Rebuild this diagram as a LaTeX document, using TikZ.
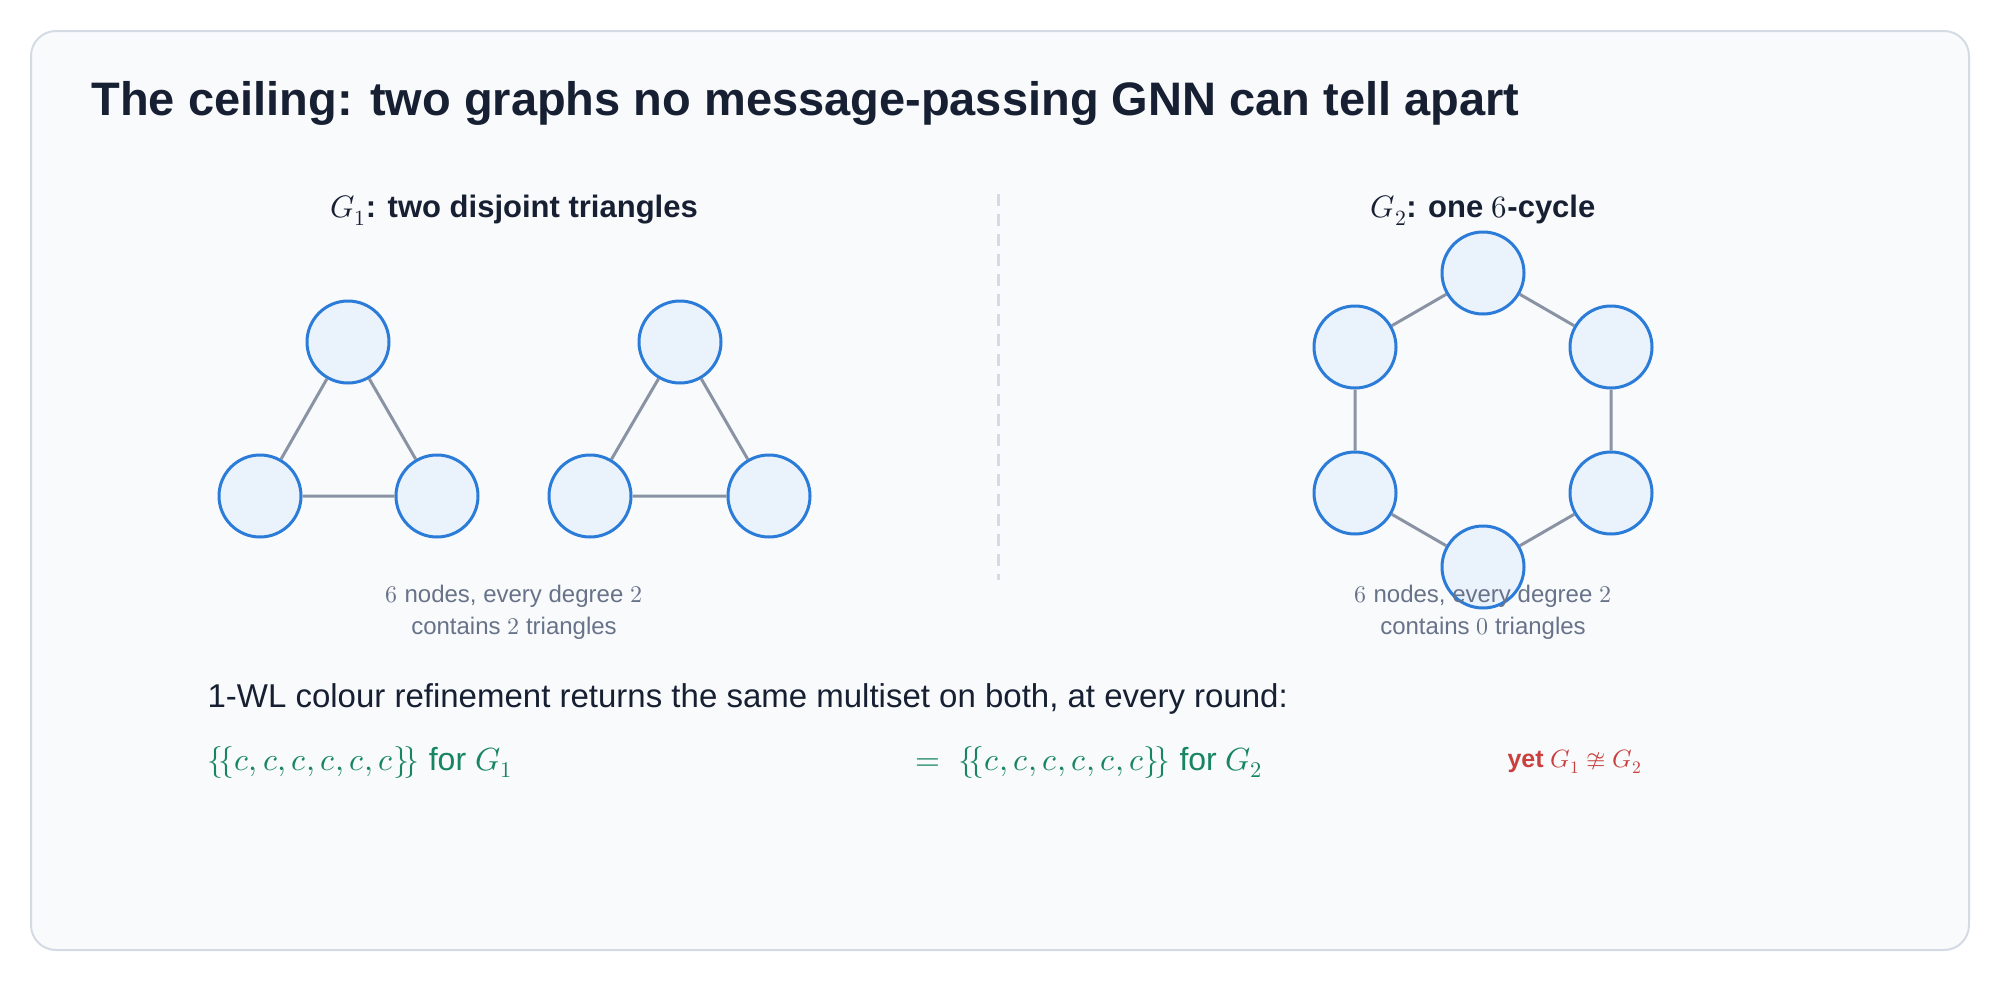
\documentclass[tikz,border=0pt]{standalone}
\usepackage{fontspec}
\usepackage{unicode-math}
\setmainfont{Liberation Sans}
\setmathfont{Latin Modern Math}
\begin{document}
\definecolor{bgc}{HTML}{F8FAFC}
\definecolor{frm}{HTML}{D5DBE5}
\definecolor{ttl}{HTML}{172033}
\definecolor{nfill}{HTML}{EAF2FC}
\definecolor{ndraw}{HTML}{2B7BD8}
\definecolor{edg}{HTML}{8A93A3}
\definecolor{cap}{HTML}{687389}
\definecolor{grn}{HTML}{17855F}
\definecolor{red}{HTML}{C9403F}
\begin{tikzpicture}[x=1pt,y=-1pt,
  v/.style={circle,draw=ndraw,fill=nfill,line width=3pt,minimum size=82pt,inner sep=0pt},
  e/.style={draw=edg,line width=3pt},
  sub/.style={font=\fontsize{31}{35}\selectfont\bfseries,text=ttl},
  cp/.style={font=\fontsize{24}{32}\selectfont,text=cap,align=center}]
\useasboundingbox (0,0) rectangle (1999,983);
\fill[white] (0,0) rectangle (1999,983);
\draw[frm,fill=bgc,line width=2pt,rounded corners=25pt] (31,31) rectangle (1969,950);
\node[anchor=west,font=\fontsize{47}{52}\selectfont\bfseries,text=ttl] (title) at (88,103) {The ceiling: two graphs no message-passing GNN can tell apart};
\node[sub] (s1) at (514,210) {$G_1$: two disjoint triangles};
\node[sub] (s2) at (1483,210) {$G_2$: one $6$-cycle};
\coordinate (d1) at (998,194); \coordinate (d2) at (998,580);
\draw[frm,line width=3pt,dash pattern=on 12pt off 8pt] (d1) -- (d2);
% triangles
\node[v] (a1) at (348,342) {}; \node[v] (a2) at (260,496) {}; \node[v] (a3) at (437,496) {};
\node[v] (b1) at (680,342) {}; \node[v] (b2) at (590,496) {}; \node[v] (b3) at (769,496) {};
\path[e] (a1)--(a2) (a2)--(a3) (a3)--(a1) (b1)--(b2) (b2)--(b3) (b3)--(b1);
% hexagon
\node[v] (h1) at (1483,273) {}; \node[v] (h2) at (1355,347) {}; \node[v] (h3) at (1355,493) {};
\node[v] (h4) at (1483,567) {}; \node[v] (h5) at (1611,493) {}; \node[v] (h6) at (1611,347) {};
\path[e] (h1)--(h2) (h2)--(h3) (h3)--(h4) (h4)--(h5) (h5)--(h6) (h6)--(h1);
\node[cp] (c1) at (514,612) {$6$ nodes, every degree $2$\\contains $2$ triangles};
\node[cp] (c2) at (1483,612) {$6$ nodes, every degree $2$\\contains $0$ triangles};
\node[anchor=west,font=\fontsize{33}{37}\selectfont,text=ttl] (wl) at (204,699) {1-WL colour refinement returns the same multiset on both, at every round:};
\node[anchor=west,font=\fontsize{32}{36}\selectfont,text=grn] (m1) at (204,762) {$\{\!\{c,c,c,c,c,c\}\!\}$ for $G_1$};
\node[anchor=west,font=\fontsize{32}{36}\selectfont,text=grn] (m2) at (912,762) {$=\ \{\!\{c,c,c,c,c,c\}\!\}$ for $G_2$};
\node[anchor=west,font=\fontsize{25}{29}\selectfont,text=red] (y) at (1504,762) {\textbf{yet} $G_1\ncong G_2$};
\end{tikzpicture}
\end{document}
